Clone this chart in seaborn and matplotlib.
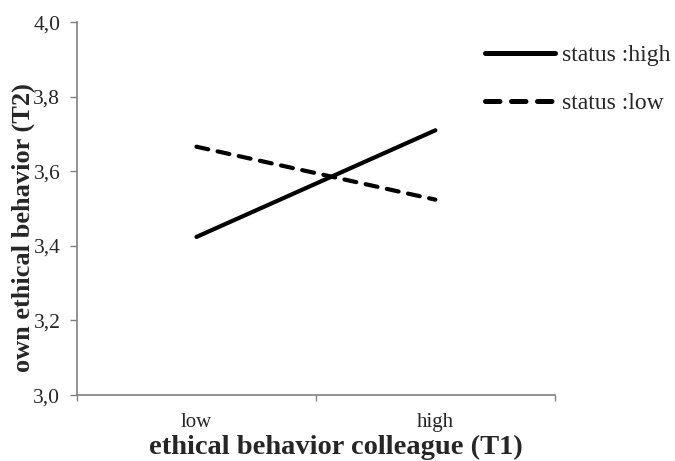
import matplotlib
matplotlib.use("Agg")
import matplotlib.pyplot as plt
import seaborn as sns
import pandas as pd

# Interaction values: own ethical behavior (T2) by colleague behavior (T1) and status
colleague = ["low", "high"]
status_high = [3.424, 3.71]
status_low = [3.666, 3.524]
series_names = ["status :high", "status :low"]
y_ticks = [3.0, 3.2, 3.4, 3.6, 3.8, 4.0]

rows = []
for name, vals in zip(series_names, [status_high, status_low]):
    for i, v in enumerate(vals):
        rows.append({"x": i, "value": v, "status": name})
df = pd.DataFrame(rows)

sns.set_theme(style="white")
plt.rcParams["font.family"] = ["Liberation Serif", "DejaVu Serif"]

fig = plt.figure(figsize=(6.75, 4.61), dpi=100)
ax = fig.add_axes([0.114, 0.143, 0.708, 0.809])

sns.lineplot(data=df, x="x", y="value", style="status", color="black",
             dashes={"status :high": "", "status :low": (2.9, 2.3)},
             linewidth=3.0, ax=ax, legend=True)
for ln in ax.get_lines():
    ln.set_solid_capstyle("round")
    ln.set_dash_capstyle("round")

ax.set_xlim(-0.5, 1.5)
ax.set_ylim(3.0, 4.0)
ax.set_yticks(y_ticks)
ax.set_yticklabels([f"{t:.1f}".replace(".", ",") for t in y_ticks], fontsize=15.5)

# category boundaries carry the tick marks, category centres carry the labels
ax.set_xticks([-0.5, 0.5, 1.5])
ax.set_xticklabels(["", "", ""])
ax.set_xticks([0, 1], minor=True)
ax.set_xticklabels(colleague, minor=True, fontsize=15)
ax.tick_params(axis="x", which="major", direction="out", length=4, width=1, color="#808080", bottom=True)
ax.tick_params(axis="x", which="minor", length=0, pad=13)
ax.tick_params(axis="y", direction="out", length=5, width=1, color="#808080", left=True, pad=7)

for side in ["top", "right"]:
    ax.spines[side].set_visible(False)
for side in ["left", "bottom"]:
    ax.spines[side].set_color("#808080")
    ax.spines[side].set_linewidth(1.2)

# axis titles
ax.set_xlabel("")
fig.text(0.497, 0.003, "ethical behavior colleague (T1)", fontsize=20.5,
         fontweight="bold", ha="center", va="bottom")
ax.set_ylabel("own ethical behavior (T2)", fontsize=19, fontweight="bold")
ax.yaxis.set_label_coords(-0.088, 0.45)

leg = ax.legend(loc="upper left", bbox_to_anchor=(0.7185, 0.904),
                bbox_transform=fig.transFigure, frameon=False,
                borderpad=0, borderaxespad=0,
                fontsize=17, handlelength=2.97, labelspacing=1.14, handletextpad=0.3)
for h in leg.legend_handles:
    h.set_linewidth(3.6)

ax.grid(False)
fig.savefig("out.png", dpi=100)
